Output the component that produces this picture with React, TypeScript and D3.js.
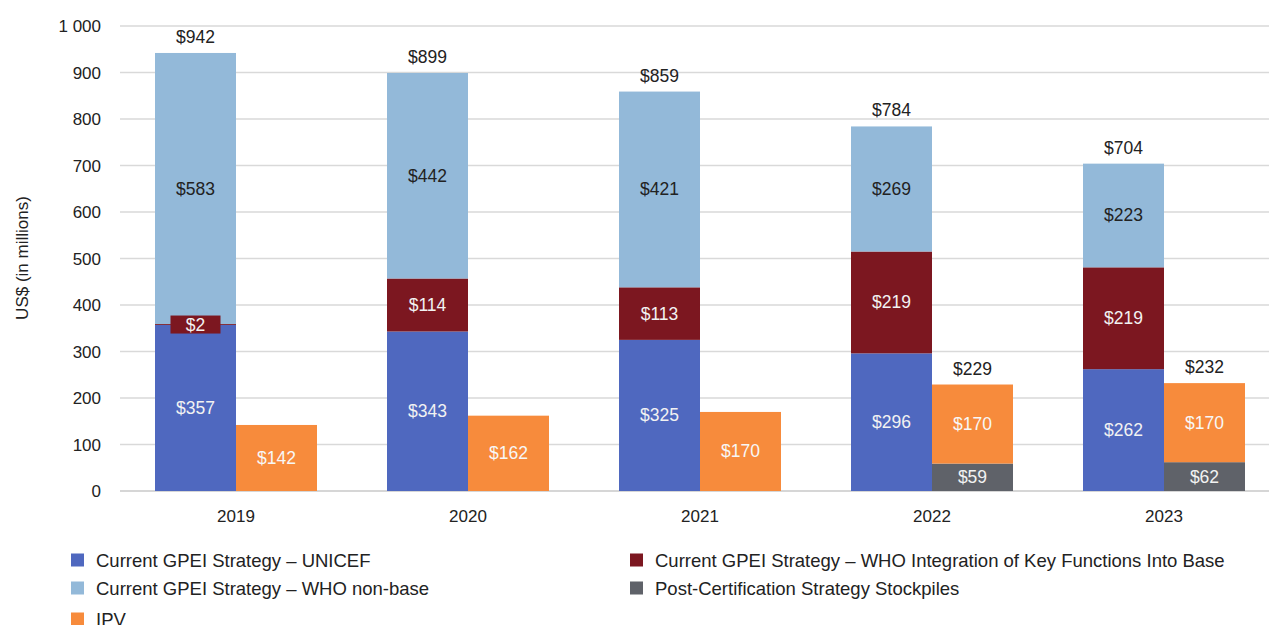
import React from "react";
import * as d3 from "d3";

const years = ["2019", "2020", "2021", "2022", "2023"];
const unicef = [357, 343, 325, 296, 262];
const whoIntegration = [2, 114, 113, 219, 219];
const whoNonBase = [583, 442, 421, 269, 223];
const stockpiles = [0, 0, 0, 59, 62];
const ipv = [142, 162, 170, 170, 170];
const yTicks = [0, 100, 200, 300, 400, 500, 600, 700, 800, 900, 1000];

const COLORS = {
  unicef: "#4f68bf",
  whoInt: "#7c1720",
  whoNon: "#93b9d9",
  stock: "#5f6269",
  ipv: "#f78b3c",
};

const FONT = "'Liberation Sans', Arial, sans-serif";

export default function App() {
  const W = 1269, H = 625;
  const left = 120, right = 1280, top = 26, bottom = 491;
  const x = d3.scaleBand<string>().domain(years).range([left, right]);
  const y = d3.scaleLinear().domain([0, 1000]).range([bottom, top]);
  const bw = 81;
  const fmt = (v: number) => "$" + v;

  const leftSeries = [
    { key: "unicef", vals: unicef, color: COLORS.unicef, text: "#f2f2f2" },
    { key: "whoInt", vals: whoIntegration, color: COLORS.whoInt, text: "#f2f2f2" },
    { key: "whoNon", vals: whoNonBase, color: COLORS.whoNon, text: "#222" },
  ];
  const rightSeries = [
    { key: "stock", vals: stockpiles, color: COLORS.stock, text: "#f2f2f2" },
    { key: "ipv", vals: ipv, color: COLORS.ipv, text: "#f7f7f7" },
  ];

  const marks: React.ReactNode[] = [];
  const labels: React.ReactNode[] = [];
  years.forEach((yr, i) => {
    const c = (x(yr) as number) + x.bandwidth() / 2;
    const groups = [
      { series: leftSeries, x0: c - bw },
      { series: rightSeries, x0: c },
    ];
    groups.forEach((g, gi) => {
      let acc = 0;
      const nonzero = g.series.filter((s) => s.vals[i] > 0).length;
      g.series.forEach((s) => {
        const v = s.vals[i];
        if (v <= 0) return;
        const y0 = y(acc), y1 = y(acc + v);
        marks.push(
          <rect key={`${yr}-${s.key}`} x={g.x0} y={y1} width={bw} height={y0 - y1} fill={s.color} />
        );
        const cy = (y0 + y1) / 2;
        if (y0 - y1 < 16) {
          labels.push(
            <g key={`lb-${yr}-${s.key}`}>
              <rect x={g.x0 + bw / 2 - 25} y={cy - 9} width={50} height={18} fill={s.color} />
              <text x={g.x0 + bw / 2} y={cy + 6} textAnchor="middle" fill={s.text} fontSize={17.5}>{fmt(v)}</text>
            </g>
          );
        } else {
          labels.push(
            <text key={`lb-${yr}-${s.key}`} x={g.x0 + bw / 2} y={cy + 6} textAnchor="middle" fill={s.text} fontSize={17.5}>{fmt(v)}</text>
          );
        }
        acc += v;
      });
      if (gi === 0 || nonzero > 1) {
        labels.push(
          <text key={`tot-${yr}-${gi}`} x={g.x0 + bw / 2} y={y(acc) - 10} textAnchor="middle" fill="#222" fontSize={17.5}>{fmt(acc)}</text>
        );
      }
    });
  });

  const legend = [
    { label: "Current GPEI Strategy \u2013 UNICEF", color: COLORS.unicef, x: 71, y: 560 },
    { label: "Current GPEI Strategy \u2013 WHO Integration of Key Functions Into Base", color: COLORS.whoInt, x: 630, y: 560 },
    { label: "Current GPEI Strategy \u2013 WHO non-base", color: COLORS.whoNon, x: 71, y: 588 },
    { label: "Post-Certification Strategy Stockpiles", color: COLORS.stock, x: 630, y: 588 },
    { label: "IPV", color: COLORS.ipv, x: 71, y: 619 },
  ];

  return (
    <svg width={W} height={H} style={{ position: "absolute", left: 0, top: 0, fontFamily: FONT }}>
      <rect width={W} height={H} fill="#fff" />
      {yTicks.map((t) => (
        <g key={t}>
          <line x1={left} x2={W} y1={y(t)} y2={y(t)} stroke={t === 0 ? "#c8c8c8" : "#d9d9d9"} strokeWidth={1.5} />
          <text x={101} y={y(t) + 6} textAnchor="end" fill="#222" fontSize={17}>
            {t === 1000 ? "1 000" : t}
          </text>
        </g>
      ))}
      {marks}
      {labels}
      {years.map((yr) => (
        <text key={yr} x={(x(yr) as number) + x.bandwidth() / 2} y={522} textAnchor="middle" fill="#222" fontSize={17}>{yr}</text>
      ))}
      <text transform={`translate(28,258) rotate(-90)`} textAnchor="middle" fill="#222" fontSize={17}>US$ (in millions)</text>
      {legend.map((l) => (
        <g key={l.label}>
          <rect x={l.x} y={l.y - 6.5} width={13} height={13} fill={l.color} />
          <text x={l.x + 25} y={l.y + 6.5} fill="#222" fontSize={18.5}>{l.label}</text>
        </g>
      ))}
    </svg>
  );
}
